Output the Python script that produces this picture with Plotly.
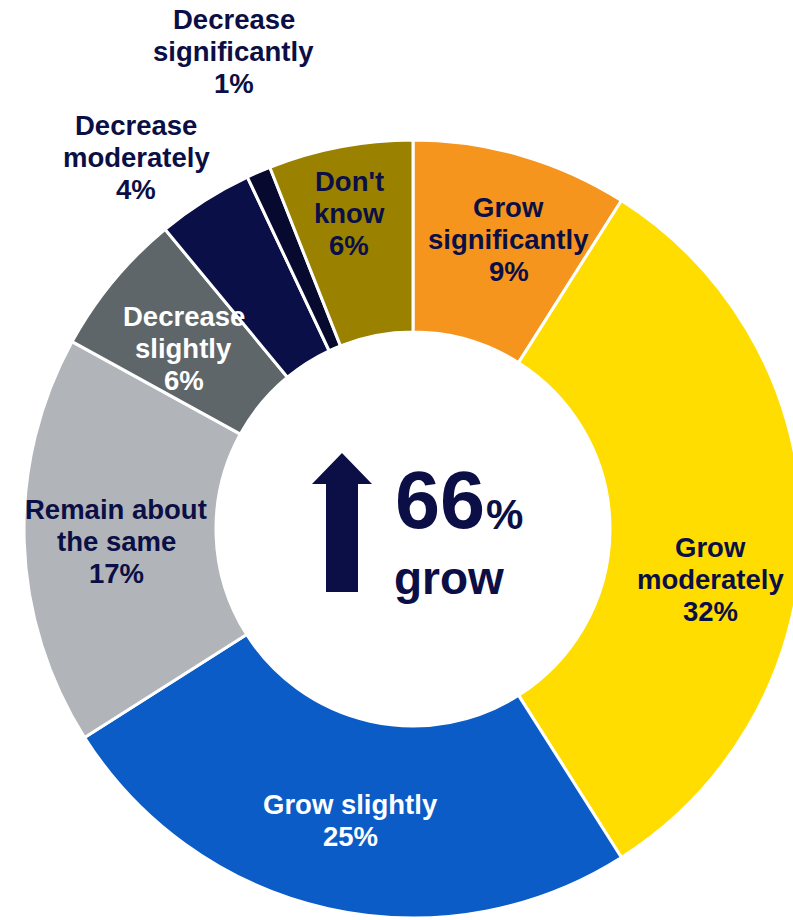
import math
import plotly.graph_objects as go

# Survey answers, clockwise from 12 o'clock
categories = [
    "Grow significantly",
    "Grow moderately",
    "Grow slightly",
    "Remain about the same",
    "Decrease slightly",
    "Decrease moderately",
    "Decrease significantly",
    "Don't know",
]
values = [9, 32, 25, 17, 6, 4, 1, 6]
label_lines = [
    ["Grow", "significantly"],
    ["Grow", "moderately"],
    ["Grow slightly"],
    ["Remain about", "the same"],
    ["Decrease", "slightly"],
    ["Decrease", "moderately"],
    ["Decrease", "significantly"],
    ["Don't", "know"],
]
growth_share = 66

colors = ["#F5951E", "#FFDD00", "#0B5CC6", "#B1B5B9",
          "#5F6669", "#0A0F47", "#070A2E", "#9A8200"]
navy = "#0B0F45"
text_colors = [navy, navy, "white", navy, "white", navy, navy, navy]
# label placement: (distance from centre in px, angular nudge in degrees)
label_place = [(305, 2.1), (302, 9.7), (298, -0.4), (297, -0.7),
               (292, -1.3), (463, -4.3), (510, 2.8), (322, -0.6)]

W, H = 810, 930
CX, CY, R = 413, 529, 389
HOLE = 197 / 389
FONT = "Liberation Sans, Arial, sans-serif"


def px(x):
    return x / W


def py(y):
    return 1 - y / H


fig = go.Figure(go.Pie(
    labels=categories,
    values=values,
    sort=False,
    direction="clockwise",
    rotation=0,
    hole=HOLE,
    marker=dict(colors=colors, line=dict(color="white", width=3)),
    textinfo="none",
    hoverinfo="label+percent",
    showlegend=False,
    domain=dict(x=[px(CX - R), px(CX + R)], y=[py(CY + R), py(CY - R)]),
))

annotations = []
total = sum(values)
cum = 0
LINE_H = 32
for i, v in enumerate(values):
    mid = 360 * (cum + v / 2) / total
    cum += v
    dist, nudge = label_place[i]
    ang = math.radians(mid + nudge)
    lx = CX + dist * math.sin(ang)
    ly = CY - dist * math.cos(ang)
    lines = label_lines[i] + [f"{v}%"]
    n = len(lines)
    for j, line in enumerate(lines):
        yy = ly + (j - (n - 1) / 2) * LINE_H
        annotations.append(dict(
            x=px(lx), y=py(yy), xref="paper", yref="paper",
            text=f"<b>{line}</b>", showarrow=False,
            xanchor="center", yanchor="middle",
            font=dict(family=FONT, size=27.5, color=text_colors[i]),
        ))

# centre call-out
annotations.append(dict(
    x=px(393), y=py(500), xref="paper", yref="paper",
    text=f"<b>{growth_share}</b>", showarrow=False,
    xanchor="left", yanchor="middle",
    font=dict(family=FONT, size=81, color=navy),
))
annotations.append(dict(
    x=px(484), y=py(514), xref="paper", yref="paper",
    text="<b>%</b>", showarrow=False,
    xanchor="left", yanchor="middle",
    font=dict(family=FONT, size=42, color=navy),
))
annotations.append(dict(
    x=px(392), y=py(578), xref="paper", yref="paper",
    text="<b>grow</b>", showarrow=False,
    xanchor="left", yanchor="middle",
    font=dict(family=FONT, size=46, color=navy),
))

# upward arrow next to the headline figure
arrow_pts = [(342, 453), (372, 484), (358, 484), (358, 592),
             (326, 592), (326, 484), (312, 484)]
path = "M " + " L ".join(f"{px(x):.5f},{py(y):.5f}" for x, y in arrow_pts) + " Z"

fig.update_layout(
    width=W, height=H,
    margin=dict(l=0, r=0, t=0, b=0),
    paper_bgcolor="white",
    plot_bgcolor="white",
    annotations=annotations,
    shapes=[dict(type="path", xref="paper", yref="paper", path=path,
                 fillcolor=navy, line=dict(width=0))],
)

fig.write_html("out.html")
